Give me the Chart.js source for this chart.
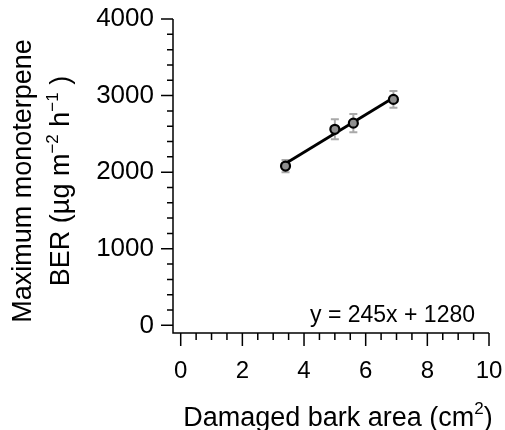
<!DOCTYPE html>
<html>
<head>
<meta charset="utf-8">
<script src="https://cdn.jsdelivr.net/npm/chart.js@4.4.0/dist/chart.umd.min.js"></script>
<style>
  html, body { margin: 0; padding: 0; background: #fff; }
</style>
</head>
<body>
<canvas id="grafico" width="505" height="430"></canvas>
<script>
// valores
const areaDano = [3.4, 5.0, 5.6, 6.9];
const berMax = [2080, 2560, 2640, 2950];
const berErro = [80, 130, 120, 110];
const ajusteX = [3.4, 6.9];
const ajusteY = [2113, 2971];
const ticksX = [0, 2, 4, 6, 8, 10];
const ticksY = [0, 1000, 2000, 3000, 4000];
const equacao = 'y = 245x + 1280';

const fonte = '"Liberation Sans", Arial, Helvetica, sans-serif';

function textoComSup(ctx, partes, cx, base, tam, tamSup, sobe){
  let largura = 0;
  partes.forEach(p => {
    ctx.font = `${p.sup ? tamSup : tam}px ${fonte}`;
    largura += ctx.measureText(p.t).width;
  });
  let x = cx - largura / 2;
  ctx.textAlign = 'left';
  ctx.textBaseline = 'alphabetic';
  partes.forEach(p => {
    ctx.font = `${p.sup ? tamSup : tam}px ${fonte}`;
    ctx.fillText(p.t, x, p.sup ? base - sobe : base);
    x += ctx.measureText(p.t).width;
  });
}

const errosPlugin = {
  id: 'erros',
  beforeDatasetsDraw(chart){
    const ctx = chart.ctx;
    const sx = chart.scales.x, sy = chart.scales.y;
    ctx.save();
    ctx.strokeStyle = '#a9a9a9';
    ctx.lineWidth = 2;
    areaDano.forEach((v, i) => {
      const x = sx.getPixelForValue(v);
      const y1 = sy.getPixelForValue(berMax[i] - berErro[i]);
      const y2 = sy.getPixelForValue(berMax[i] + berErro[i]);
      ctx.beginPath();
      ctx.moveTo(x, y1); ctx.lineTo(x, y2);
      ctx.moveTo(x - 4, y1); ctx.lineTo(x + 4, y1);
      ctx.moveTo(x - 4, y2); ctx.lineTo(x + 4, y2);
      ctx.stroke();
    });
    ctx.restore();
  }
};

const eixosPlugin = {
  id: 'eixos',
  afterDraw(chart){
    const ctx = chart.ctx;
    const area = chart.chartArea;
    const sx = chart.scales.x, sy = chart.scales.y;
    ctx.save();
    ctx.strokeStyle = '#000';
    ctx.lineWidth = 1.5;
    ctx.beginPath();
    ctx.moveTo(area.left, sy.getPixelForValue(4000));
    ctx.lineTo(area.left, area.bottom);
    ctx.lineTo(sx.getPixelForValue(10), area.bottom);
    for (let v = 0; v <= 4000; v += 200) {
      const y = sy.getPixelForValue(v);
      const t = v % 1000 === 0 ? 12 : 6;
      ctx.moveTo(area.left - t, y); ctx.lineTo(area.left, y);
    }
    for (let v = 0; v <= 10; v += 0.5) {
      const x = sx.getPixelForValue(v);
      const t = v % 2 === 0 ? 13 : 7;
      ctx.moveTo(x, area.bottom); ctx.lineTo(x, area.bottom + t);
    }
    ctx.stroke();

    ctx.fillStyle = '#000';
    // titulo do eixo y
    ctx.save();
    ctx.translate(31, 181);
    ctx.rotate(-Math.PI / 2);
    ctx.font = `27px ${fonte}`;
    ctx.textAlign = 'center';
    ctx.textBaseline = 'alphabetic';
    ctx.fillText('Maximum monoterpene', 0, 0);
    ctx.restore();

    ctx.save();
    ctx.translate(69, 181);
    ctx.rotate(-Math.PI / 2);
    textoComSup(ctx, [
      {t: 'BER (µg m'}, {t: '−2', sup: true}, {t: ' h'}, {t: '−1', sup: true}, {t: ' )'}
    ], 0, 0, 27, 17, 11);
    ctx.restore();

    // titulo do eixo x
    textoComSup(ctx, [
      {t: 'Damaged bark area (cm'}, {t: '2', sup: true}, {t: ')'}
    ], 338, 426, 27, 17, 12);

    // equacao
    ctx.font = `23px ${fonte}`;
    ctx.textAlign = 'right';
    ctx.textBaseline = 'alphabetic';
    ctx.fillText(equacao, 475, 322);
    ctx.restore();
  }
};

const graficoBER = new Chart(document.querySelector('#grafico'), {
  type: 'scatter',
  data: {
    datasets: [{
      label: 'BER',
      data: areaDano.map((v, i) => ({x: v, y: berMax[i]})),
      pointRadius: 4.5,
      pointBorderWidth: 2.2,
      pointBackgroundColor: '#8f8f8f',
      pointBorderColor: '#000',
      order: 1
    }, {
      label: 'ajuste',
      data: ajusteX.map((v, i) => ({x: v, y: ajusteY[i]})),
      showLine: true,
      borderColor: '#000',
      borderWidth: 2.8,
      pointRadius: 0,
      order: 2
    }]
  },
  options: {
    responsive: false,
    animation: false,
    devicePixelRatio: 1,
    layout: { padding: { top: 19, right: 16, left: 0, bottom: 0 } },
    plugins: { legend: { display: false }, tooltip: { enabled: false } },
    scales: {
      x: {
        type: 'linear',
        min: -0.25,
        max: 10,
        afterBuildTicks: s => { s.ticks = ticksX.map(v => ({value: v})); },
        afterFit: s => { s.height = 97; s.paddingLeft = 0; s.paddingRight = 0; },
        grid: { display: false, drawTicks: false },
        border: { display: false },
        ticks: { color: '#000', padding: 24, maxRotation: 0, callback: v => String(v), font: { size: 24, family: fonte } }
      },
      y: {
        type: 'linear',
        min: -100,
        max: 4000,
        afterBuildTicks: s => { s.ticks = ticksY.map(v => ({value: v})); },
        afterFit: s => { s.width = 173; s.paddingTop = 0; s.paddingBottom = 0; },
        grid: { display: false, drawTicks: false },
        border: { display: false },
        ticks: { color: '#000', padding: 19, callback: v => String(v), font: { size: 26, family: fonte } }
      }
    }
  },
  plugins: [errosPlugin, eixosPlugin]
});
</script>
</body>
</html>
